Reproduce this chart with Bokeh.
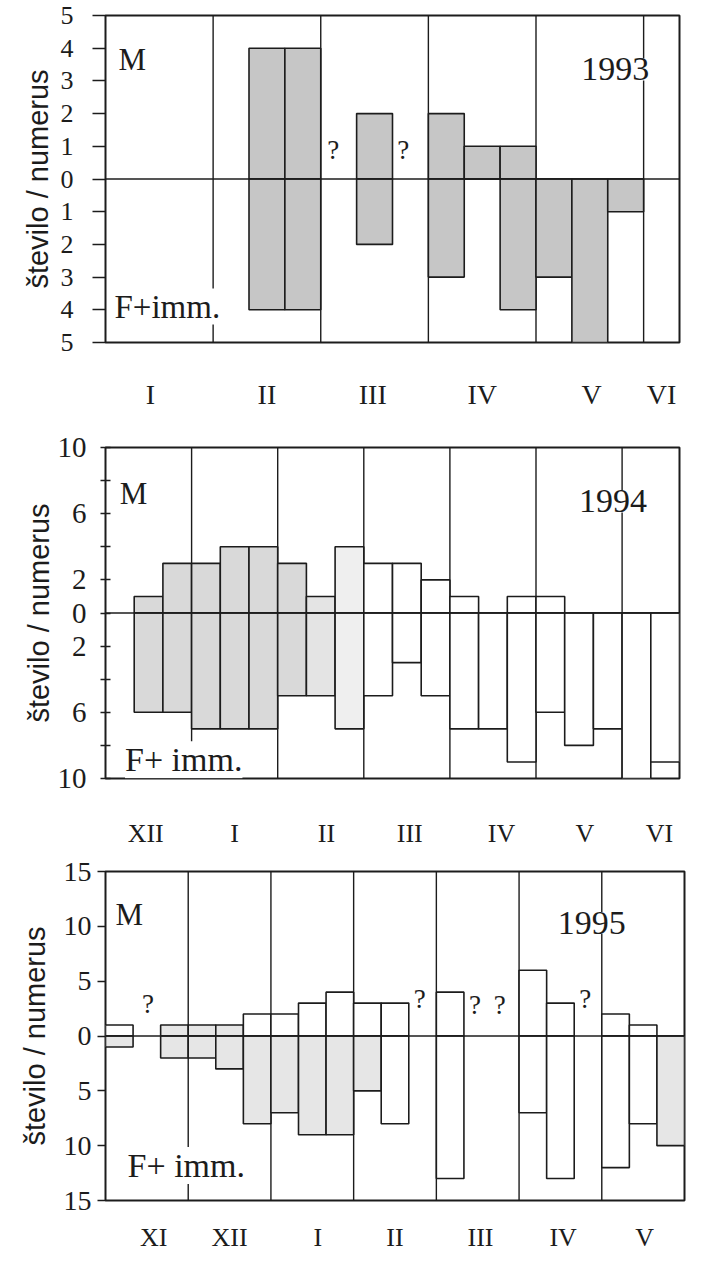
from bokeh.plotting import figure
from bokeh.layouts import column
from bokeh.models import Range1d, FixedTicker, CustomJSTickFormatter, Label, Title
from bokeh.embed import file_html
from bokeh.resources import INLINE

# ---------------- data (x in 10-day periods / dekads) ----------------
# 1993
dek93 = [4, 5, 7, 9, 10, 11, 12, 13, 14]
male93 = [4, 4, 2, 2, 1, 1, 0, 0, 0]
fem93 = [4, 4, 2, 3, 0, 4, 3, 5, 1]
month_lab93 = ["I", "II", "III", "IV", "V", "VI"]
month_pos93 = [1.25, 4.5, 7.45, 10.5, 13.55, 15.5]
month_bound93 = [3, 6, 9, 12, 15]
q_x93 = [6.35, 8.3]
q_y93 = [0.9, 0.9]
ytick93 = [-5, -4, -3, -2, -1, 0, 1, 2, 3, 4, 5]
ylab93 = ["5", "4", "3", "2", "1", "0", "1", "2", "3", "4", "5"]

# 1994
dek94 = [1, 2, 3, 4, 5, 6, 7, 8, 9, 10, 11, 12, 13, 14, 15, 16, 17, 18, 19]
male94 = [1, 3, 3, 4, 4, 3, 1, 4, 3, 3, 2, 1, 0, 1, 1, 0, 0, 0, 0]
fem94 = [6, 6, 7, 7, 7, 5, 5, 7, 5, 3, 5, 7, 7, 9, 6, 8, 7, 10, 9]
month_lab94 = ["XII", "I", "II", "III", "IV", "V", "VI"]
month_pos94 = [1.4, 4.5, 7.7, 10.6, 13.8, 16.7, 19.3]
month_bound94 = [3, 6, 9, 12, 15, 18]
ytick94 = [-10, -8, -6, -4, -2, 0, 2, 4, 6, 8, 10]
ylab94 = ["10", "", "6", "", "2", "0", "2", "", "6", "", "10"]

# 1995
dek95 = [0, 2, 3, 4, 5, 6, 7, 8, 9, 10, 12, 15, 16, 18, 19, 20]
male95 = [1, 1, 1, 1, 2, 2, 3, 4, 3, 3, 4, 6, 3, 2, 1, 0]
fem95 = [1, 2, 2, 3, 8, 7, 9, 9, 5, 8, 13, 7, 13, 12, 8, 10]
month_lab95 = ["XI", "XII", "I", "II", "III", "IV", "V"]
month_pos95 = [1.75, 4.5, 7.7, 10.5, 13.6, 16.6, 19.55]
month_bound95 = [3, 6, 9, 12, 15, 18]
q_x95 = [1.54, 11.4, 13.4, 14.3, 17.4]
q_y95 = [2.9, 3.4, 2.8, 2.8, 3.4]
ytick95 = [-15, -10, -5, 0, 5, 10, 15]
ylab95 = ["15", "10", "5", "0", "5", "10", "15"]

YLABEL = "število / numerus"

# ---------------- styles ----------------
INK = "#1c1c1c"
SERIF = "Liberation Serif"
SANS = "Liberation Sans"
W = "white"
S1 = "#c6c6c6"
S2a, S2b, S2c = "#d9d9d9", "#e4e4e4", "#efefef"
S3 = "#e6e6e6"

mfill93 = [S1] * len(dek93)
ffill93 = [S1] * len(dek93)
mfill94 = [S2a] * 6 + [S2b, S2c] + [W] * 11
ffill94 = [S2a] * 6 + [S2b, S2c] + [W] * 11
mfill95 = [W, S3, S3, S3] + [W] * 12
ffill95 = [S3] * 9 + [W] * 6 + [S3]

FMT = """
for (let i = 0; i < tv.length; i++) { if (Math.abs(tv[i] - tick) < 1e-6) return labs[i]; }
return "";"""


def make_panel(dek, male, fem, mfill, ffill, mlab, mpos, bounds, ytick, ylab,
               xmax, ymax, year, qx, qy, f_text, cfg):
    p = figure(width=cfg["width"], height=cfg["height"], output_backend="svg",
               toolbar_location=None,
               x_range=Range1d(0, xmax), y_range=Range1d(-ymax, ymax),
               min_border_left=cfg["bl"], min_border_right=cfg["br"],
               min_border_top=cfg["bt"], min_border_bottom=cfg["bb"])
    p.background_fill_color = "white"
    p.border_fill_color = "white"
    p.xgrid.visible = False
    p.ygrid.visible = False
    p.outline_line_color = INK
    p.outline_line_width = 2
    p.outline_line_alpha = 1

    # month boundaries
    p.segment(x0=bounds, x1=bounds, y0=[-ymax] * len(bounds), y1=[ymax] * len(bounds),
              line_color=INK, line_width=1.4)

    left = list(dek)
    right = [d + 1 for d in dek]
    # males (up)
    p.quad(left=left, right=right, bottom=[0] * len(dek), top=male,
           fill_color=mfill, line_color=INK, line_width=1.6)
    # females + immatures (down)
    p.quad(left=left, right=right, top=[0] * len(dek), bottom=[-f for f in fem],
           fill_color=ffill, line_color=INK, line_width=1.6)
    # zero line
    p.segment(x0=[0], x1=[xmax], y0=[0], y1=[0], line_color=INK, line_width=1.4)

    # x axis: month names
    xa = p.xaxis[0]
    xa.ticker = FixedTicker(ticks=mpos)
    xa.formatter = CustomJSTickFormatter(args=dict(tv=mpos, labs=mlab), code=FMT)
    xa.axis_line_color = None
    xa.major_tick_line_color = None
    xa.minor_tick_line_color = None
    xa.major_label_text_font = SERIF
    xa.major_label_text_font_size = cfg["xfs"]
    xa.major_label_text_color = INK
    xa.major_label_standoff = cfg["xso"]

    # y axis
    ya = p.yaxis[0]
    ya.ticker = FixedTicker(ticks=ytick)
    ya.formatter = CustomJSTickFormatter(args=dict(tv=ytick, labs=ylab), code=FMT)
    ya.axis_line_color = None
    ya.minor_tick_line_color = None
    ya.major_tick_line_color = INK
    ya.major_tick_line_width = 1.5
    ya.major_tick_in = cfg["tin"]
    ya.major_tick_out = cfg["tout"]
    ya.major_label_text_font = SERIF
    ya.major_label_text_font_size = cfg["yfs"]
    ya.major_label_text_color = INK
    ya.major_label_standoff = cfg["yso"]

    # rotated axis title, shifted slightly below centre like the original
    p.add_layout(Title(text=YLABEL, align="center", offset=cfg["aoff"],
                       standoff=cfg["ast"], text_font=SANS, text_font_size="29px",
                       text_font_style="normal", text_color=INK), "left")

    # annotations
    mx, my = cfg["M"]
    p.add_layout(Label(x=mx, y=my, text="M", text_font=SERIF, text_font_size="31px",
                       text_color=INK, text_align="left", text_baseline="alphabetic"))
    fx, fy = cfg["F"]
    p.add_layout(Label(x=fx, y=fy, text=f_text, text_font=SERIF,
                       text_font_size=cfg["ffs"],
                       text_color=INK, text_align="left", text_baseline="alphabetic",
                       background_fill_color="white"))
    yx, yy = cfg["Y"]
    p.add_layout(Label(x=yx, y=yy, text=year, text_font=SERIF, text_font_size="34px",
                       text_color=INK, text_align="left", text_baseline="alphabetic",
                       background_fill_color="white"))
    for x, y in zip(qx, qy):
        p.add_layout(Label(x=x, y=y, text="?", text_font=SERIF, text_font_size="27px",
                           text_color=INK, text_align="center", text_baseline="middle"))
    return p


p1 = make_panel(dek93, male93, fem93, mfill93, ffill93, month_lab93, month_pos93,
                month_bound93, ytick93, ylab93, 16, 5, "1993", q_x93, q_y93, "F+imm.",
                dict(width=689, height=412, bl=102, br=10, bt=15, bb=63, xfs="28px", xso=30,
                     tin=0, tout=13, yfs="26px", yso=19, aoff=-6, ast=8, ffs="33px",
                     M=(0.36, 3.65), F=(0.25, -3.9), Y=(13.26, 3.35)))

p2 = make_panel(dek94, male94, fem94, mfill94, ffill94, month_lab94, month_pos94,
                month_bound94, ytick94, ylab94, 20, 10, "1994", [], [], "F+ imm.",
                dict(width=689, height=438, bl=89, br=9, bt=35, bb=66, xfs="26px", xso=34,
                     tin=5, tout=5, yfs="29px", yso=14, aoff=-10, ast=0, ffs="34px",
                     M=(0.5, 7.2), F=(0.68, -8.87), Y=(16.5, 6.74)))

p3 = make_panel(dek95, male95, fem95, mfill95, ffill95, month_lab95, month_pos95,
                month_bound95, ytick95, ylab95, 21, 15, "1995", q_x95, q_y95, "F+ imm.",
                dict(width=694, height=404, bl=105, br=1, bt=21, bb=47, xfs="26px", xso=16,
                     tin=0, tout=8, yfs="28px", yso=6, aoff=-20, ast=20, ffs="34px",
                     M=(0.36, 11.1), F=(0.8, -11.8), Y=(16.4, 10.3)))

layout = column(p1, p2, p3)
open("out.html", "w").write(file_html(layout, INLINE))
